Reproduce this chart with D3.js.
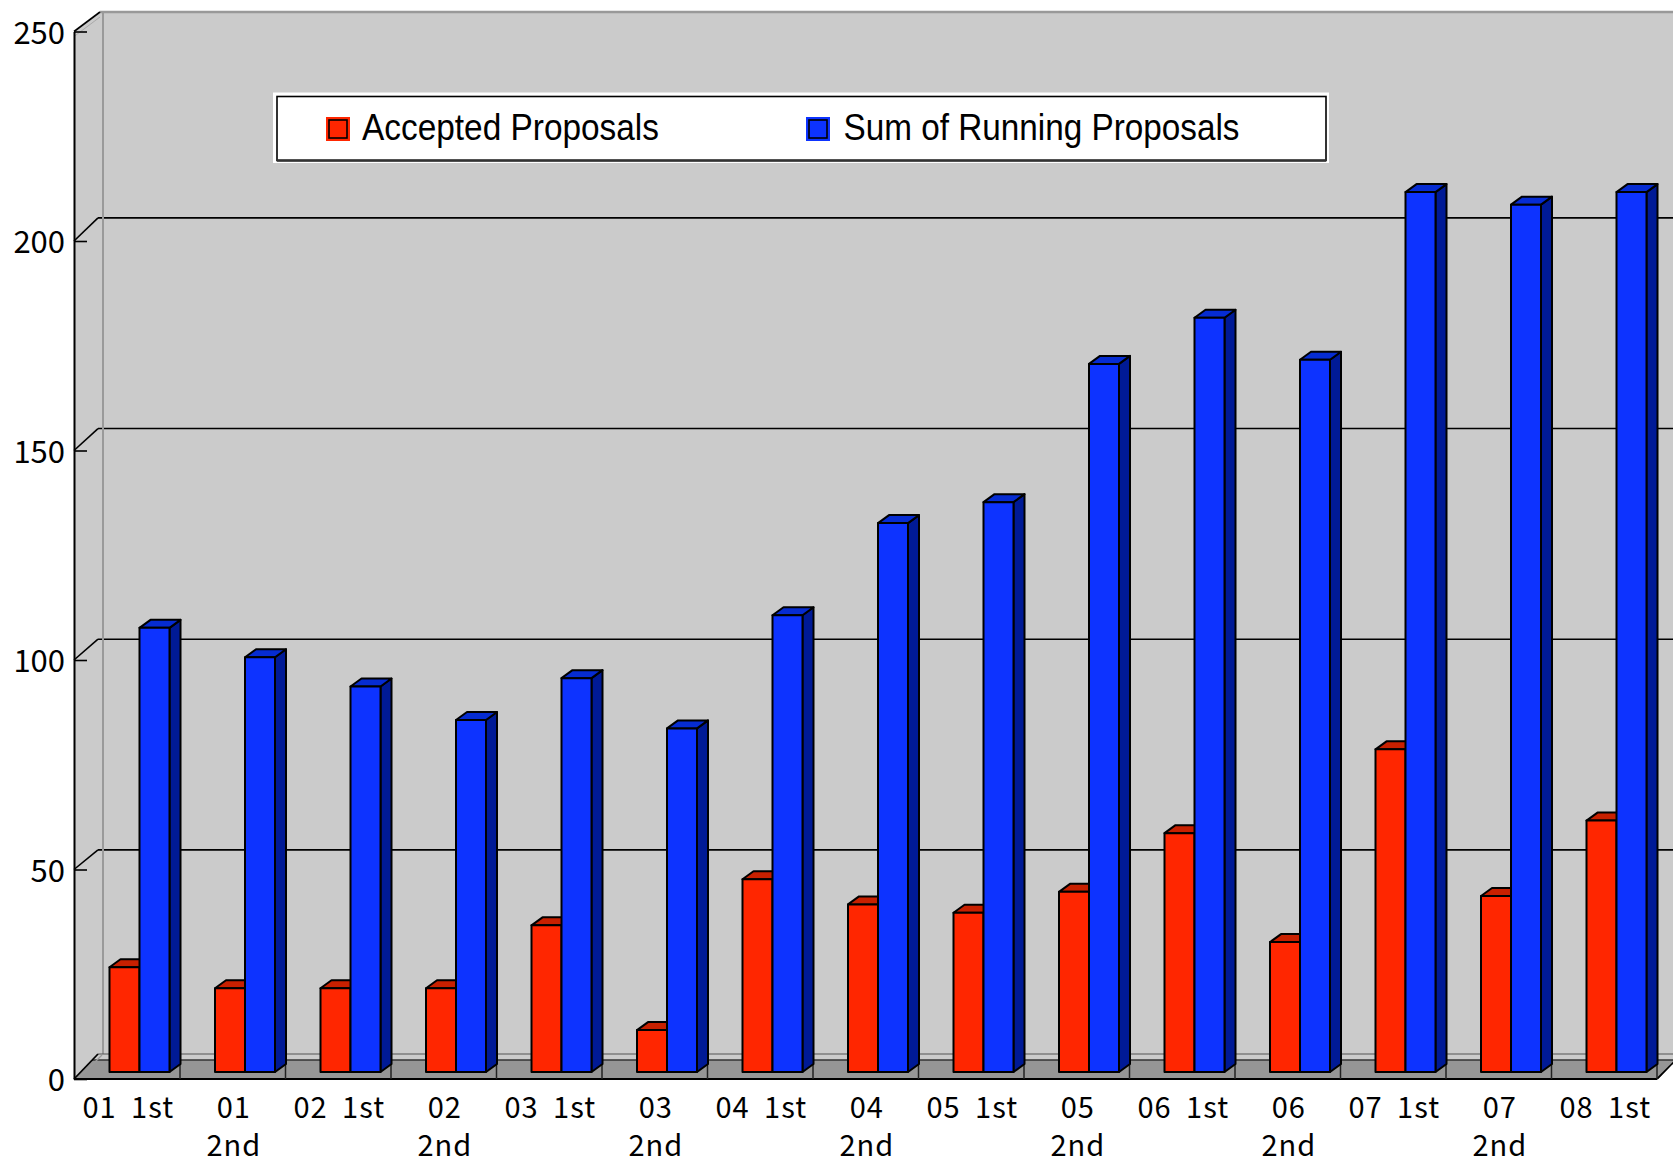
<!DOCTYPE html>
<html>
<head>
<meta charset="utf-8">
<script src="https://cdn.jsdelivr.net/npm/d3@7"></script>
<style>
  html, body { margin: 0; padding: 0; background: #fff; }
  svg { display: block; }
</style>
</head>
<body>
<svg id="chart" width="1673" height="1166"></svg>
<script>
// Half-year periods on the category axis
const categories = ["01 1st","01 2nd","02 1st","02 2nd","03 1st","03 2nd","04 1st","04 2nd",
                    "05 1st","05 2nd","06 1st","06 2nd","07 1st","07 2nd","08 1st"];
// Tick labels (second-half periods wrap onto two lines)
const tickLabels = ["01 1st","01\n2nd","02 1st","02\n2nd","03 1st","03\n2nd","04 1st","04\n2nd",
                    "05 1st","05\n2nd","06 1st","06\n2nd","07 1st","07\n2nd","08 1st"];
const seriesNames = ["Accepted Proposals","Sum of Running Proposals"];
const accepted = [25,20,20,20,35,10,46,40,38,43,57,31,77,42,60];
const running  = [106,99,92,84,94,82,109,131,136,169,180,170,210,207,210];
const yTicks = [0,50,100,150,200,250];

const svg = d3.select("#chart");
const W = 1673, H = 1166;

// Plot geometry (oblique 3D box)
const frontLeft = 74, backLeft = 98, wallTop = 12;
const floorFront = 1079, floorBack = 1054, floorBand = 1060;
const plotRight = 1657;
const barDX = 11, barDY = 8;

const x = d3.scaleBand().domain(categories).range([74.5, plotRight]);
const xInner = d3.scaleBand().domain(seriesNames).range([35, 95]);
const yFront = d3.scaleLinear().domain([0, 250]).range([floorFront, floorFront - 250 * 4.19]);
const yBack  = d3.scaleLinear().domain([0, 250]).range([1060.5, 1060.5 - 250 * 4.213]);
const yBar   = d3.scaleLinear().domain([0, 250]).range([1072, 1072 - 250 * 4.19]);

const colors = {
  "Accepted Proposals":       { front: "#ff2600", top: "#c82000", side: "#8a1700" },
  "Sum of Running Proposals": { front: "#0d33ff", top: "#062cd2", side: "#001a96" }
};
const labelFont = "'Noto Sans CJK JP', 'Noto Sans', sans-serif";

// Back wall
svg.append("rect")
  .attr("x", backLeft).attr("y", wallTop)
  .attr("width", W - backLeft).attr("height", floorBand - wallTop)
  .attr("fill", "#cbcbcb");
// Side wall
svg.append("polygon")
  .attr("points", [[frontLeft, yFront(250)], [backLeft + 2, wallTop], [backLeft + 2, floorBand], [frontLeft, floorFront]].join(" "))
  .attr("fill", "#cbcbcb");

// Back-wall gridlines
svg.append("g").selectAll("line")
  .data(yTicks.filter(d => d > 0 && d < 250))
  .join("line")
  .attr("x1", backLeft).attr("x2", W)
  .attr("y1", d => yBack(d)).attr("y2", d => yBack(d))
  .attr("stroke", "#000").attr("stroke-width", 1.6);

// Side-wall connectors from front ticks to the back wall
svg.append("g").selectAll("line")
  .data(yTicks.filter(d => d > 0 && d < 250))
  .join("line")
  .attr("x1", frontLeft).attr("y1", d => yFront(d))
  .attr("x2", backLeft).attr("y2", d => yBack(d))
  .attr("stroke", "#000").attr("stroke-width", 1.6);

// Wall edges
svg.append("line").attr("x1", backLeft + 5).attr("x2", backLeft + 5)
  .attr("y1", wallTop).attr("y2", floorBack)
  .attr("stroke", "#9a9a9a").attr("stroke-width", 2);
svg.append("line").attr("x1", backLeft + 2).attr("x2", W)
  .attr("y1", wallTop).attr("y2", wallTop)
  .attr("stroke", "#999").attr("stroke-width", 2.5);
svg.append("line").attr("x1", frontLeft).attr("y1", yFront(250))
  .attr("x2", backLeft + 2).attr("y2", wallTop)
  .attr("stroke", "#000").attr("stroke-width", 1.6);
svg.append("line").attr("x1", frontLeft).attr("y1", yFront(250) + 5)
  .attr("x2", backLeft + 2).attr("y2", wallTop + 5)
  .attr("stroke", "#aaa").attr("stroke-width", 1);

// Floor
svg.append("polygon")
  .attr("points", [[frontLeft, floorFront], [frontLeft + 18, floorBand], [plotRight + 19, floorBand], [plotRight, floorFront]].join(" "))
  .attr("fill", "#969696");
svg.append("line").attr("x1", backLeft).attr("x2", W)
  .attr("y1", floorBack).attr("y2", floorBack)
  .attr("stroke", "#555").attr("stroke-width", 1.2);
svg.append("line").attr("x1", frontLeft + 18).attr("x2", W)
  .attr("y1", floorBand).attr("y2", floorBand)
  .attr("stroke", "#333").attr("stroke-width", 1.5);
svg.append("line").attr("x1", frontLeft).attr("y1", floorFront)
  .attr("x2", backLeft).attr("y2", floorBack)
  .attr("stroke", "#000").attr("stroke-width", 1.8);
svg.append("line").attr("x1", frontLeft + 4).attr("y1", floorFront)
  .attr("x2", backLeft + 4).attr("y2", floorBack + 1)
  .attr("stroke", "#999").attr("stroke-width", 1.2);
svg.append("line").attr("x1", plotRight).attr("y1", floorFront)
  .attr("x2", plotRight + 24).attr("y2", floorBack + 1)
  .attr("stroke", "#000").attr("stroke-width", 1.8);
svg.append("polygon")
  .attr("points", [[plotRight + 1, floorFront + 1], [W, floorFront + 1], [W, floorFront - 15]].join(" "))
  .attr("fill", "#fff");
svg.append("line").attr("x1", frontLeft).attr("x2", plotRight)
  .attr("y1", floorFront).attr("y2", floorFront)
  .attr("stroke", "#000").attr("stroke-width", 2);

// Category separators on the floor
svg.append("g").selectAll("line")
  .data(categories.slice(1).concat(["end"]))
  .join("line")
  .attr("x1", d => d === "end" ? plotRight : x(d))
  .attr("x2", d => d === "end" ? plotRight : x(d))
  .attr("y1", floorBand).attr("y2", floorFront)
  .attr("stroke", "#222").attr("stroke-width", 1.5);

// Bars
const barData = [];
categories.forEach((c, i) => {
  barData.push({ cat: c, series: seriesNames[0], value: accepted[i] });
  barData.push({ cat: c, series: seriesNames[1], value: running[i] });
});
const bars = svg.append("g").selectAll("g.bar")
  .data(barData)
  .join("g").attr("class", "bar");
bars.each(function (d) {
  const g = d3.select(this);
  const bx = x(d.cat) + xInner(d.series);
  const bw = xInner.bandwidth();
  const top = yBar(d.value), bottom = yBar(0);
  const col = colors[d.series];
  g.append("polygon")
    .attr("points", [[bx + bw, top], [bx + bw + barDX, top - barDY], [bx + bw + barDX, bottom - barDY], [bx + bw, bottom]].join(" "))
    .attr("fill", col.side);
  g.append("polygon")
    .attr("points", [[bx, top], [bx + barDX, top - barDY], [bx + bw + barDX, top - barDY], [bx + bw, top]].join(" "))
    .attr("fill", col.top);
  g.append("rect")
    .attr("x", bx).attr("y", top).attr("width", bw).attr("height", bottom - top)
    .attr("fill", col.front);
  g.selectAll("polygon, rect")
    .attr("stroke", "#000").attr("stroke-width", 2).attr("stroke-linejoin", "round");
});

// Value axis
const yAxis = svg.append("g")
  .attr("transform", `translate(${frontLeft},0)`)
  .call(d3.axisLeft(yFront).tickValues(yTicks).tickSizeInner(-13).tickSizeOuter(0).tickPadding(9));
yAxis.select(".domain").attr("stroke", "#000").attr("stroke-width", 2);
yAxis.selectAll(".tick line").attr("stroke", "#000").attr("stroke-width", 1.6);
yAxis.selectAll(".tick text")
  .attr("font-family", labelFont)
  .attr("font-size", 31).attr("fill", "#000").attr("dy", "0.38em");

// Category axis
const xAxis = svg.append("g")
  .attr("transform", `translate(0,${floorFront})`)
  .call(d3.axisBottom(x).tickSize(0).tickPadding(0).tickFormat((d, i) => tickLabels[i]));
xAxis.select(".domain").remove();
xAxis.selectAll(".tick text").each(function (d, i) {
  const t = d3.select(this);
  const lines = tickLabels[i].split("\n");
  t.text(null)
    .attr("y", 0).attr("dy", null)
    .attr("font-family", labelFont)
    .attr("font-size", 29).attr("fill", "#000")
    .attr("letter-spacing", 1).attr("word-spacing", 7);
  lines.forEach((ln, k) => {
    t.append("tspan").attr("x", 1).attr("y", 39 + k * 38).text(ln);
  });
});

// Legend
const legend = svg.append("g");
legend.append("rect").attr("x", 273).attr("y", 92.5).attr("width", 1056).attr("height", 70.5).attr("fill", "#fff");
legend.append("rect").attr("x", 277).attr("y", 96.5).attr("width", 1049).attr("height", 64)
  .attr("fill", "#fff").attr("stroke", "#000").attr("stroke-width", 1.6);
legend.append("line").attr("x1", 277).attr("x2", 1326).attr("y1", 160.5).attr("y2", 160.5)
  .attr("stroke", "#333").attr("stroke-width", 2.5);
const legendItems = [
  { name: seriesNames[0], sx: 326, tx: 362, tw: 297 },
  { name: seriesNames[1], sx: 806, tx: 843.5, tw: 396 }
];
legendItems.forEach(it => {
  legend.append("rect").attr("x", it.sx).attr("y", 117).attr("width", 24).attr("height", 24)
    .attr("fill", colors[it.name].front);
  legend.append("rect").attr("x", it.sx + 3).attr("y", 120).attr("width", 18).attr("height", 18)
    .attr("fill", colors[it.name].front).attr("stroke", "#000").attr("stroke-width", 1.6);
  legend.append("text").attr("x", it.tx).attr("y", 140)
    .attr("font-family", "'Liberation Sans', Arial, sans-serif").attr("font-size", 37)
    .attr("textLength", it.tw).attr("lengthAdjust", "spacingAndGlyphs")
    .attr("fill", "#000").text(it.name);
});
</script>
</body>
</html>
